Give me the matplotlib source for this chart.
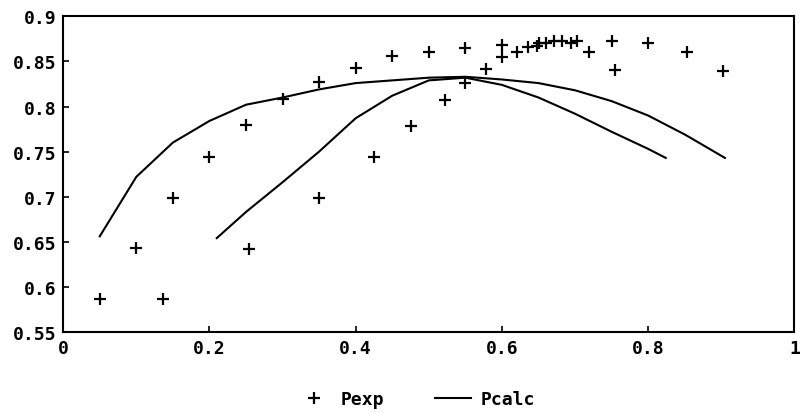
import matplotlib
matplotlib.use("Agg")
import matplotlib.pyplot as plt
import numpy as np
from matplotlib.lines import Line2D

# Experimental points
pexp_x = [0.05, 0.10, 0.137, 0.15, 0.20, 0.25, 0.254, 0.30, 0.35, 0.35, 0.40, 0.425,
          0.45, 0.475, 0.50, 0.522, 0.55, 0.55, 0.578, 0.60, 0.60, 0.62, 0.635, 0.648,
          0.651, 0.66, 0.671, 0.682, 0.695, 0.702, 0.719, 0.751, 0.755, 0.80, 0.853, 0.903]
pexp_y = [0.587, 0.643, 0.587, 0.699, 0.744, 0.780, 0.642, 0.808, 0.827, 0.698, 0.843, 0.744,
          0.856, 0.778, 0.861, 0.807, 0.865, 0.826, 0.842, 0.868, 0.855, 0.860, 0.866, 0.867,
          0.870, 0.870, 0.873, 0.873, 0.870, 0.873, 0.860, 0.873, 0.840, 0.870, 0.860, 0.839]

# Calculated curves
pcalc1_x = [0.05, 0.10, 0.15, 0.20, 0.25, 0.30, 0.35, 0.40, 0.45, 0.50, 0.55, 0.60,
            0.65, 0.70, 0.75, 0.80, 0.85, 0.905]
pcalc1_y = [0.656, 0.722, 0.760, 0.784, 0.802, 0.810, 0.819, 0.826, 0.829, 0.832, 0.833, 0.830,
            0.826, 0.818, 0.806, 0.790, 0.769, 0.743]
pcalc2_x = [0.21, 0.25, 0.30, 0.35, 0.40, 0.45, 0.50, 0.55, 0.60, 0.65, 0.70, 0.75, 0.80, 0.824]
pcalc2_y = [0.654, 0.683, 0.716, 0.750, 0.787, 0.812, 0.829, 0.832, 0.824, 0.810, 0.792, 0.772,
            0.753, 0.743]

xticks = [0, 0.2, 0.4, 0.6, 0.8, 1]
xticklabels = ["0", "0.2", "0.4", "0.6", "0.8", "1"]
yticks = [0.55, 0.6, 0.65, 0.7, 0.75, 0.8, 0.85, 0.9]
yticklabels = ["0.55", "0.6", "0.65", "0.7", "0.75", "0.8", "0.85", "0.9"]

font = dict(family="DejaVu Sans Mono", weight="bold", size=13)

fig = plt.figure(figsize=(8, 4.14), dpi=100)
ax = fig.add_axes([0.079, 0.196, 0.914, 0.762])

ax.plot(pexp_x, pexp_y, linestyle="none", marker="+", color="black",
        markersize=8, markeredgewidth=1.6)
ax.plot(pcalc1_x, pcalc1_y, color="black", linewidth=1.5)
ax.plot(pcalc2_x, pcalc2_y, color="black", linewidth=1.5)

ax.set_xlim(0, 1)
ax.set_ylim(0.55, 0.9)
ax.set_xticks(xticks)
ax.set_xticklabels(xticklabels, fontdict=font)
ax.set_yticks(yticks)
ax.set_yticklabels(yticklabels, fontdict=font)
ax.tick_params(direction="in", length=4, width=1.2, pad=5)
for s in ax.spines.values():
    s.set_linewidth(1.5)

handles = [Line2D([], [], linestyle="none", marker="+", color="black", markersize=8,
                  markeredgewidth=1.6),
           Line2D([], [], color="black", linewidth=1.5)]
fig.legend(handles, ["Pexp", "Pcalc"], loc="center", bbox_to_anchor=(0.519, 0.034),
           ncol=2, frameon=False, prop=dict(family="DejaVu Sans Mono", weight="bold", size=13),
           handlelength=2.0, columnspacing=2.8, handletextpad=0.5)

fig.savefig("out.png", dpi=100)
